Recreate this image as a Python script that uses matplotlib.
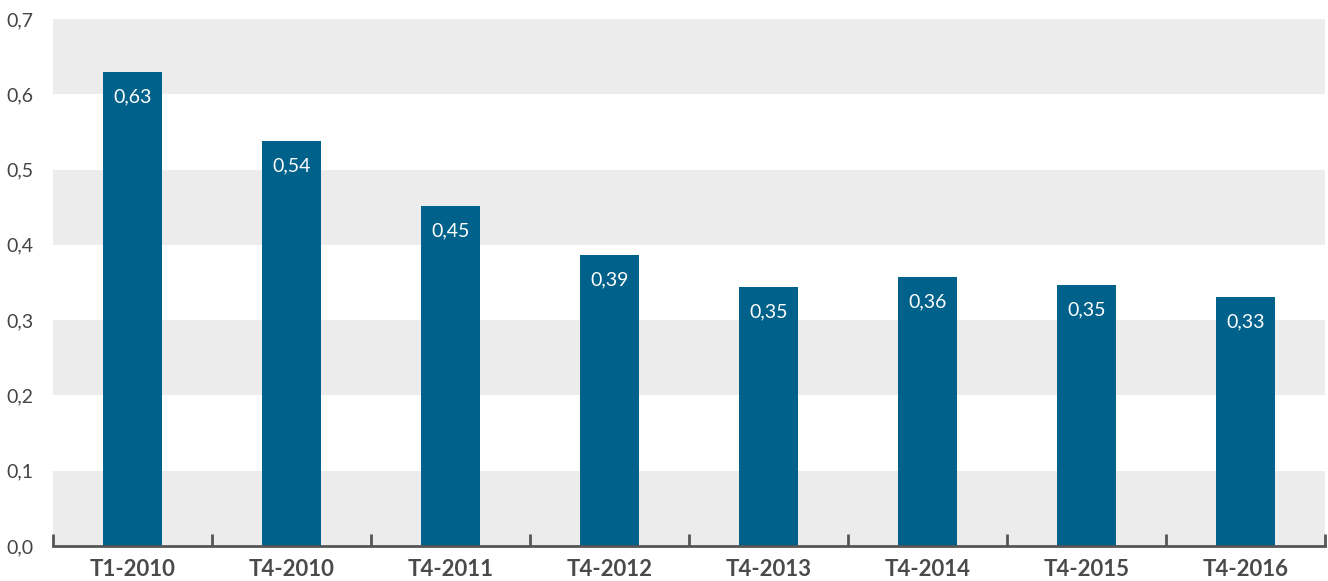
import numpy as np
import matplotlib
matplotlib.use('Agg')
import matplotlib.pyplot as plt

# Donnees
categories = ['T1-2010', 'T4-2010', 'T4-2011', 'T4-2012',
              'T4-2013', 'T4-2014', 'T4-2015', 'T4-2016']
valeurs = [0.63, 0.538, 0.452, 0.387, 0.344, 0.357, 0.347, 0.331]
etiquettes = ['0,63', '0,54', '0,45', '0,39', '0,35', '0,36', '0,35', '0,33']
y_ticks = [0.0, 0.1, 0.2, 0.3, 0.4, 0.5, 0.6, 0.7]

plt.rcParams['font.family'] = ['Lato', 'DejaVu Sans']

bleu = '#00628b'
gris = '#ebeceb'
texte = '#444444'

fig = plt.figure(figsize=(13.28, 5.81), dpi=100)
ax = fig.add_axes([53 / 1328, 35 / 581, 1272 / 1328, 527 / 581])

x = np.arange(len(categories))

# Bandes grises alternees
for i in range(0, len(y_ticks) - 1):
    if i % 2 == 0:
        ax.axhspan(y_ticks[i], y_ticks[i + 1], color=gris, zorder=0, lw=0)

ax.bar(x, valeurs, width=0.365, color=bleu, zorder=2)

for xi, v, lab in zip(x, valeurs, etiquettes):
    ax.text(xi, v - 0.022, lab, ha='center', va='top', color='white',
            fontsize=14, zorder=3)

ax.set_xlim(-0.5, len(categories) - 0.5)
ax.set_ylim(0, 0.7)

ax.set_yticks(y_ticks)
ax.set_yticklabels([('%.1f' % t).replace('.', ',') for t in y_ticks])
ax.tick_params(axis='y', length=0, pad=14, labelsize=14, labelcolor=texte)

# Graduations x aux limites des categories
ax.set_xticks(np.arange(len(categories) + 1) - 0.5)
ax.set_xticklabels([])
ax.set_xticks(x, minor=True)
ax.set_xticklabels(categories, minor=True, fontweight='bold', fontsize=16,
                   color='#4a4a4a')
ax.tick_params(axis='x', which='major', direction='in', length=9,
               width=2, color='#555555')
ax.tick_params(axis='x', which='minor', length=0, pad=9)

for s in ['top', 'right', 'left']:
    ax.spines[s].set_visible(False)
ax.spines['bottom'].set_color('#555555')
ax.spines['bottom'].set_linewidth(2)

plt.savefig('out.png', dpi=100)
